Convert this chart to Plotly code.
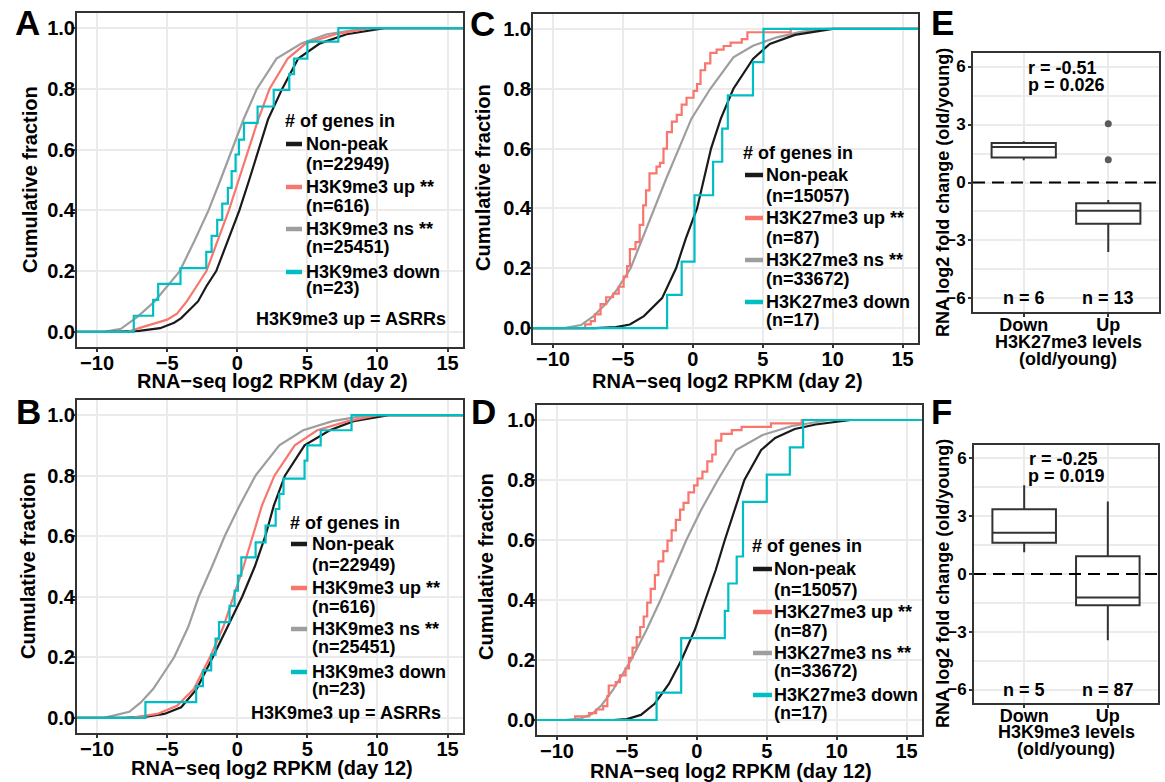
import plotly.graph_objects as go

W, H = 1165, 782

# ---------------- data ----------------
RPKM_TICKS = [-10, -5, 0, 5, 10, 15]
RPKM_TICKTEXT = ["\u221210", "\u22125", "0", "5", "10", "15"]
FRAC_TICKS = [0.0, 0.2, 0.4, 0.6, 0.8, 1.0]
FRAC_TICKTEXT = ["0.0", "0.2", "0.4", "0.6", "0.8", "1.0"]

# Panel A (day 2, H3K9me3)
A_np_x = [-9.0, -7.0, -5.5, -4.5, -4.0, -2.8, -2.2, -1.5, -0.65, 0.15, 0.85, 1.55, 2.2, 3.2, 4.35, 5.9, 7.8, 10.5]
A_np_y = [0.0, 0.003, 0.012, 0.03, 0.045, 0.1, 0.15, 0.2, 0.3, 0.4, 0.5, 0.6, 0.7, 0.8, 0.9, 0.95, 0.98, 1.0]
A_up_x = [-7.8, -7.0, -6.0, -5.0, -4.3, -3.6, -2.9, -2.2, -1.4, -0.6, 0.1, 0.8, 1.5, 2.3, 3.6, 4.9, 7.0, 9.5]
A_up_y = [0.0, 0.012, 0.025, 0.04, 0.06, 0.1, 0.15, 0.2, 0.3, 0.4, 0.5, 0.6, 0.7, 0.8, 0.9, 0.95, 0.98, 1.0]
A_ns_x = [-9.5, -8.3, -7.1, -5.9, -5.0, -4.1, -3.05, -2.05, -1.2, -0.4, 0.45, 1.4, 2.8, 4.6, 6.4, 9.2]
A_ns_y = [0.0, 0.01, 0.05, 0.1, 0.15, 0.2, 0.3, 0.4, 0.5, 0.6, 0.7, 0.8, 0.9, 0.95, 0.98, 1.0]
A_down_x = [-7.38, -6.0, -5.64, -4.05, -2.21, -1.83, -1.43, -1.07, -0.67, -0.40, -0.12, 0.12, 0.48, 1.45, 2.6, 3.71, 4.05, 5.0, 7.21]
A_down_y = [0.053, 0.105, 0.158, 0.21, 0.263, 0.316, 0.369, 0.422, 0.474, 0.529, 0.584, 0.633, 0.688, 0.742, 0.797, 0.849, 0.90, 0.956, 1.0]

# Panel B (day 12, H3K9me3)
B_np_x = [-8.0, -6.5, -5.2, -4.0, -2.9, -1.75, -0.7, 0.35, 1.25, 2.0, 2.6, 3.4, 4.8, 6.6, 8.3, 10.8]
B_np_y = [0.0, 0.004, 0.013, 0.035, 0.095, 0.2, 0.3, 0.4, 0.5, 0.6, 0.7, 0.8, 0.9, 0.95, 0.98, 1.0]
B_up_x = [-7.6, -5.7, -4.3, -3.1, -1.95, -1.0, -0.25, 0.45, 1.1, 1.75, 2.65, 4.1, 5.7, 7.9, 10.0]
B_up_y = [0.0, 0.013, 0.04, 0.095, 0.2, 0.3, 0.4, 0.5, 0.6, 0.7, 0.8, 0.9, 0.95, 0.98, 1.0]
B_ns_x = [-9.5, -7.7, -6.9, -6.0, -4.5, -3.5, -2.75, -1.8, -0.9, 0.15, 1.3, 3.0, 4.7, 6.8, 9.3]
B_ns_y = [0.0, 0.02, 0.05, 0.095, 0.2, 0.3, 0.4, 0.5, 0.6, 0.7, 0.8, 0.9, 0.95, 0.98, 1.0]
B_down_x = [-6.55, -2.93, -2.45, -1.86, -1.55, -1.3, -0.55, -0.19, 0.05, 0.29, 1.31, 2.02, 2.74, 3.0, 3.3, 4.8, 5.0, 5.95, 8.15]
B_down_y = [0.052, 0.105, 0.157, 0.209, 0.262, 0.316, 0.37, 0.42, 0.47, 0.53, 0.58, 0.635, 0.69, 0.74, 0.79, 0.85, 0.90, 0.95, 1.0]

# Panel C (day 2, H3K27me3)
C_np_x = [-7.0, -5.5, -4.5, -3.5, -2.2, -1.2, -0.5, 0.3, 0.8, 1.3, 2.0, 2.9, 4.3, 5.5, 7.3, 10.0]
C_np_y = [0.0, 0.003, 0.012, 0.04, 0.1, 0.2, 0.3, 0.4, 0.5, 0.6, 0.7, 0.8, 0.9, 0.95, 0.98, 1.0]
C_up_x = [-7.7, -7.3, -7.0, -6.6, -6.2, -5.7, -5.3, -4.95, -4.7, -4.5, -4.1, -3.8, -3.55, -3.35, -3.1, -2.6, -2.35,
          -2.1, -1.85, -1.5, -1.15, -0.8, -0.45, 0.05, 0.3, 0.55, 0.88, 1.25, 1.7, 2.2, 2.7, 3.5, 3.9, 7.0]
C_up_y = [0.012, 0.023, 0.046, 0.08, 0.103, 0.115, 0.138, 0.172, 0.207, 0.264, 0.287, 0.345, 0.41, 0.46, 0.517, 0.54, 0.552,
          0.6, 0.655, 0.69, 0.713, 0.747, 0.77, 0.793, 0.816, 0.862, 0.885, 0.92, 0.931, 0.943, 0.954, 0.966, 0.989, 1.0]
C_ns_x = [-9.2, -8.0, -7.1, -6.1, -5.4, -4.45, -3.6, -2.8, -1.9, -1.0, -0.1, 1.25, 2.9, 4.3, 6.0, 7.7, 9.5]
C_ns_y = [0.0, 0.01, 0.04, 0.087, 0.13, 0.2, 0.3, 0.4, 0.5, 0.6, 0.7, 0.8, 0.905, 0.944, 0.972, 0.99, 1.0]
C_down_x = [-1.84, -0.8, 0.12, 1.45, 2.1, 2.5, 4.3, 5.05]
C_down_y = [0.111, 0.222, 0.444, 0.556, 0.667, 0.778, 0.889, 1.0]

# Panel D (day 12, H3K27me3)
D_np_x = [-6.0, -5.0, -4.0, -3.0, -2.0, -1.1, -0.15, 0.6, 1.35, 2.0, 2.7, 3.4, 4.6, 5.6, 7.0, 8.5, 11.0]
D_np_y = [0.0, 0.003, 0.017, 0.055, 0.12, 0.2, 0.3, 0.4, 0.5, 0.6, 0.7, 0.8, 0.9, 0.94, 0.97, 0.985, 1.0]
D_up_x = [-8.7, -7.7, -7.2, -6.7, -6.4, -6.3, -5.8, -5.5, -5.1, -4.85, -4.6, -4.3, -4.05, -3.8, -3.55, -3.3, -3.0, -2.75,
          -2.4, -2.1, -1.8, -1.5, -1.2, -0.95, -0.6, -0.2, 0.05, 0.4, 0.75, 1.1, 1.35, 1.75, 2.5, 3.2, 5.3, 7.5]
D_up_y = [0.012, 0.023, 0.035, 0.046, 0.08, 0.115, 0.126, 0.149, 0.172, 0.207, 0.241, 0.276, 0.31, 0.345, 0.391, 0.437,
          0.483, 0.529, 0.563, 0.598, 0.632, 0.667, 0.701, 0.724, 0.759, 0.782, 0.805, 0.828, 0.862, 0.885, 0.931, 0.954,
          0.966, 0.977, 0.989, 1.0]
D_ns_x = [-9.5, -8.3, -7.5, -6.8, -6.0, -4.7, -3.6, -2.6, -1.7, -0.75, 0.3, 1.5, 2.8, 4.7, 6.8, 9.5]
D_ns_y = [0.0, 0.005, 0.02, 0.05, 0.1, 0.2, 0.3, 0.4, 0.5, 0.6, 0.7, 0.8, 0.9, 0.95, 0.98, 1.0]
D_down_x = [-2.88, -1.12, 2.0, 2.25, 2.85, 3.3, 5.0, 6.65, 7.6]
D_down_y = [0.091, 0.273, 0.364, 0.455, 0.545, 0.727, 0.818, 0.909, 1.0]

H3K9_LABELS = [("Non-peak", "(n=22949)"), ("H3K9me3 up **", "(n=616)"),
               ("H3K9me3 ns **", "(n=25451)"), ("H3K9me3 down", "(n=23)")]
H3K27_LABELS = [("Non-peak", "(n=15057)"), ("H3K27me3 up **", "(n=87)"),
                ("H3K27me3 ns **", "(n=33672)"), ("H3K27me3 down", "(n=17)")]

# Box panels
BOX_CATS = ["Down", "Up"]
E_q1 = [1.29, -2.14]
E_med = [1.84, -1.46]
E_q3 = [2.04, -1.08]
E_lo = [1.15, -3.60]
E_hi = [2.14, -0.91]
E_out_x = ["Up", "Up"]
E_out_y = [3.04, 1.18]
E_n = ["n = 6", "n = 13"]
F_q1 = [1.62, -1.62]
F_med = [2.14, -1.22]
F_q3 = [3.36, 0.92]
F_lo = [1.13, -3.44]
F_hi = [4.61, 3.77]
F_n = ["n = 5", "n = 87"]
FC_TICKS = [-6, -3, 0, 3, 6]
FC_MINOR = [-4.5, -1.5, 1.5, 4.5]

# ---------------- style ----------------
FONT = "Liberation Sans, Arial, Helvetica, sans-serif"
COL = {"np": "#1A1A1A", "up": "#F8766D", "ns": "#9E9E9E", "down": "#00BFC4"}
FRAME = "#333333"
GRID = "#EBEBEB"
XLO, XHI = -13.0, 18.0


def px(x):
    return x / W


def py(y):
    return 1 - y / H


fig = go.Figure()


def smooth(xs, ys, color, xa, ya):
    fig.add_trace(go.Scatter(x=[XLO] + xs + [XHI], y=[0.0] + ys + [1.0], mode="lines",
                             line=dict(color=color, width=2.2), xaxis=xa, yaxis=ya,
                             showlegend=False, hoverinfo="skip"))


def steps(xs, ys, color, xa, ya):
    fig.add_trace(go.Scatter(x=[XLO] + xs + [XHI], y=[0.0] + ys + [ys[-1]], mode="lines",
                             line=dict(color=color, width=2.2, shape="hv"), xaxis=xa, yaxis=ya,
                             showlegend=False, hoverinfo="skip"))


# A
smooth(A_ns_x, A_ns_y, COL["ns"], "x", "y")
smooth(A_np_x, A_np_y, COL["np"], "x", "y")
smooth(A_up_x, A_up_y, COL["up"], "x", "y")
steps(A_down_x, A_down_y, COL["down"], "x", "y")
# C
smooth(C_ns_x, C_ns_y, COL["ns"], "x2", "y2")
smooth(C_np_x, C_np_y, COL["np"], "x2", "y2")
steps(C_up_x, C_up_y, COL["up"], "x2", "y2")
steps(C_down_x, C_down_y, COL["down"], "x2", "y2")
# B
smooth(B_ns_x, B_ns_y, COL["ns"], "x4", "y4")
smooth(B_np_x, B_np_y, COL["np"], "x4", "y4")
smooth(B_up_x, B_up_y, COL["up"], "x4", "y4")
steps(B_down_x, B_down_y, COL["down"], "x4", "y4")
# D
smooth(D_ns_x, D_ns_y, COL["ns"], "x5", "y5")
smooth(D_np_x, D_np_y, COL["np"], "x5", "y5")
steps(D_up_x, D_up_y, COL["up"], "x5", "y5")
steps(D_down_x, D_down_y, COL["down"], "x5", "y5")

# Boxes
for q1, med, q3, lo, hi, xa, ya in [(E_q1, E_med, E_q3, E_lo, E_hi, "x3", "y3"),
                                    (F_q1, F_med, F_q3, F_lo, F_hi, "x6", "y6")]:
    fig.add_trace(go.Box(x=BOX_CATS, q1=q1, median=med, q3=q3, lowerfence=lo, upperfence=hi,
                         fillcolor="white", line=dict(color=FRAME, width=2), width=0.76,
                         whiskerwidth=0, boxpoints=False, xaxis=xa, yaxis=ya,
                         showlegend=False, hoverinfo="skip"))
fig.add_trace(go.Scatter(x=E_out_x, y=E_out_y, mode="markers", marker=dict(color="#5A5A5A", size=7),
                         xaxis="x3", yaxis="y3", showlegend=False, hoverinfo="skip"))

# ---------------- axes ----------------
common = dict(showline=True, mirror=True, linecolor=FRAME, linewidth=2, zeroline=False,
              showgrid=True, gridcolor=GRID, gridwidth=2, ticks="outside", ticklen=3,
              tickwidth=1.5, tickcolor=FRAME, automargin=False)
ecdf_panels = {  # name: (x-domain px, y-domain px)
    "": ((77, 463), (13, 347)),
    "2": ((533, 918), (14, 343)),
    "4": ((77, 463), (400, 733)),
    "5": ((537, 922), (405, 735)),
}
lay = {}
for k, ((x0, x1), (y0, y1)) in ecdf_panels.items():
    lay["xaxis" + k] = dict(common, domain=[px(x0), px(x1)], range=[-11.43, 16.1],
                            tickvals=RPKM_TICKS, ticktext=RPKM_TICKTEXT, anchor="y" + k,
                            ticklabelstandoff=-6,
                            tickfont=dict(size=20, color="black", weight="bold"))
    lay["yaxis" + k] = dict(common, domain=[py(y1), py(y0)], range=[-0.05, 1.05],
                            tickvals=FRAC_TICKS, ticktext=FRAC_TICKTEXT, anchor="x" + k,
                            ticklabelstandoff=-7,
                            tickfont=dict(size=20, color="black", weight="bold"))
box_panels = {"3": ((973, 1159), (53, 312)), "6": ((974, 1158), (445, 703))}
for k, ((x0, x1), (y0, y1)) in box_panels.items():
    lay["xaxis" + k] = dict(common, domain=[px(x0), px(x1)], range=[-0.6, 1.6], type="category",
                            categoryorder="array", categoryarray=BOX_CATS, anchor="y" + k,
                            ticklabelstandoff=-8,
                            tickfont=dict(size=18, color="black", weight="bold"))
    lay["yaxis" + k] = dict(common, domain=[py(y1), py(y0)], range=[-6.7, 6.7], tickvals=FC_TICKS,
                            anchor="x" + k, tickfont=dict(size=17, color="black", weight="bold"),
                            ticklabelstandoff=-1,
                            minor=dict(tickvals=FC_MINOR, showgrid=True, gridcolor=GRID, gridwidth=2))
    fig.add_shape(type="line", xref="x%s domain" % k, yref="y" + k, x0=0, x1=1, y0=0, y1=0,
                  line=dict(color="black", width=2.2, dash="12px,7px"))

fig.update_layout(template="none", width=W, height=H, margin=dict(l=0, r=0, t=0, b=0, pad=0),
                  autosize=False, plot_bgcolor="white", paper_bgcolor="white",
                  font=dict(family=FONT, size=18, color="black", weight="bold"), **lay)


# ---------------- text ----------------
def ann(text, x, y, size=18, xanchor="center", angle=0, xref="paper", yref="paper"):
    fig.add_annotation(text=text, x=px(x) if xref == "paper" else x, y=py(y) if yref == "paper" else y,
                       xref=xref, yref=yref, showarrow=False, xanchor=xanchor, yanchor="middle",
                       textangle=angle, borderpad=0,
                       font=dict(family=FONT, size=size, color="black", weight="bold"))


for letter, x, y in [("A", 27, 22), ("C", 482, 23), ("E", 942, 22), ("B", 28, 411), ("D", 483, 411), ("F", 941, 411)]:
    ann(letter, x, y, size=35)

ann("RNA\u2212seq log2 RPKM (day 2)", 272, 381, size=20)
ann("RNA\u2212seq log2 RPKM (day 2)", 727, 381, size=20)
ann("RNA\u2212seq log2 RPKM (day 12)", 272, 768, size=20)
ann("RNA\u2212seq log2 RPKM (day 12)", 731, 771, size=20)
for x, y in [(30, 180), (483, 178), (28, 566), (486, 567)]:
    ann("Cumulative fraction", x, y, size=20, angle=-90)
ann("RNA log2 fold change (old/young)", 943, 192, size=18, angle=-90)
ann("RNA log2 fold change (old/young)", 943, 583, size=18, angle=-90)


# legends
def legend(labels, title_x, title_y, key_x0, key_x1, text_x, rows1, rows2):
    ann("# of genes in", title_x, title_y, xanchor="left")
    for (l1, l2), c, y1, y2 in zip(labels, [COL["np"], COL["up"], COL["ns"], COL["down"]], rows1, rows2):
        fig.add_shape(type="line", xref="paper", yref="paper", x0=px(key_x0), x1=px(key_x1),
                      y0=py(y1), y1=py(y1), line=dict(color=c, width=4.5))
        ann(l1, text_x, y1, xanchor="left")
        ann(l2, text_x, y2, xanchor="left")


legend(H3K9_LABELS, 284, 121, 286, 302, 305, [144, 187, 229, 272], [164, 206, 247, 288])
legend(H3K27_LABELS, 742, 153, 745, 763, 765, [175, 218, 260, 302], [196, 238, 279, 320])
legend(H3K9_LABELS, 289, 523, 291, 307, 311, [544, 588, 629, 672], [565, 607, 647, 689])
legend(H3K27_LABELS, 751, 546, 753, 772, 773, [569, 612, 653, 695], [590, 631, 671, 713])
ann("H3K9me3 up = ASRRs", 447, 319, xanchor="right")
ann("H3K9me3 up = ASRRs", 442, 713, xanchor="right")

# box panel texts
ann("r = -0.51", 1027, 68, xanchor="left")
ann("p = 0.026", 1027, 85, xanchor="left")
ann("r = -0.25", 1028, 459, xanchor="left")
ann("p = 0.019", 1027, 476, xanchor="left")
for cat, t in zip(BOX_CATS, E_n):
    ann(t, cat, -6, xref="x3", yref="y3")
for cat, t in zip(BOX_CATS, F_n):
    ann(t, cat, -6, xref="x6", yref="y6")
ann("H3K27me3 levels", 1068, 342)
ann("(old/young)", 1068, 359)
ann("H3K9me3 levels", 1066, 732)
ann("(old/young)", 1066, 749)

fig.write_html("out.html", config={"displayModeBar": False},
               post_script="document.body.style.margin='0px';document.body.style.overflow='hidden';")
